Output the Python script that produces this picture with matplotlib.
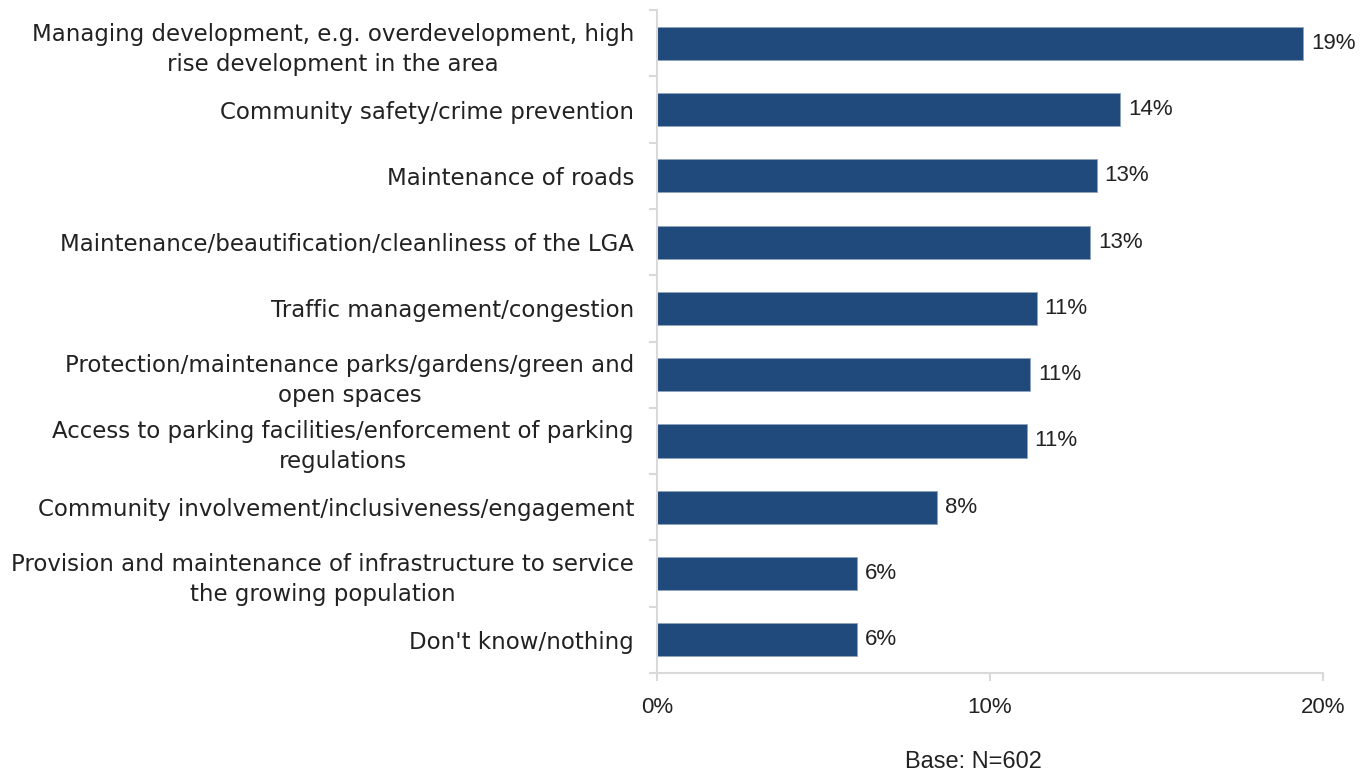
import matplotlib
matplotlib.use("Agg")
import matplotlib.pyplot as plt
from matplotlib.ticker import FixedLocator

categories = [
    "Managing development, e.g. overdevelopment, high\nrise development in the area",
    "Community safety/crime prevention",
    "Maintenance of roads",
    "Maintenance/beautification/cleanliness of the LGA",
    "Traffic management/congestion",
    "Protection/maintenance parks/gardens/green and\nopen spaces",
    "Access to parking facilities/enforcement of parking\nregulations",
    "Community involvement/inclusiveness/engagement",
    "Provision and maintenance of infrastructure to service\nthe growing population",
    "Don't know/nothing",
]
values = [19.4, 13.9, 13.2, 13.0, 11.4, 11.2, 11.1, 8.4, 6.0, 6.0]
x_ticks = [0, 10, 20]
base_note = "Base: N=602"

bar_color = "#214a7c"
axis_color = "#d9d9d9"
text_color = "#222222"
num_font = "Liberation Sans"

fig = plt.figure(figsize=(13.69, 7.75), dpi=100)
ax = fig.add_axes([0.4799, 0.1316, 0.9664 - 0.4799, 0.987 - 0.1316])

n = len(categories)
pos = list(range(n))
ax.barh(pos, values, height=0.5, color=bar_color, edgecolor="#8fa3bd", linewidth=0.6)
ax.set_ylim(n - 0.5, -0.5)
ax.set_xlim(0, 20)

for y, v in zip(pos, values):
    ax.text(v + 0.24, y, f"{v:.0f}%", va="center", ha="left",
            fontsize=16, color=text_color, family=num_font)

# category labels
ax.set_yticks(pos)
ax.set_yticklabels(categories, fontsize=16.5, color=text_color, family="DejaVu Sans",
                   multialignment="center", linespacing=1.38)
ax.tick_params(axis="y", which="major", length=0, pad=16.5)
ax.yaxis.set_minor_locator(FixedLocator([i - 0.5 for i in range(n + 1)]))
ax.tick_params(axis="y", which="minor", length=6, width=1.5, color=axis_color)

ax.set_xticks(x_ticks)
ax.set_xticklabels([f"{t}%" for t in x_ticks], fontsize=16, color=text_color,
                   family=num_font)
ax.tick_params(axis="x", length=6, width=1.5, color=axis_color, pad=11)

for side in ["top", "right"]:
    ax.spines[side].set_visible(False)
for side in ["left", "bottom"]:
    ax.spines[side].set_color(axis_color)
    ax.spines[side].set_linewidth(1.5)

fig.text(973 / 1369, 1 - 762 / 775, base_note, ha="center", va="center",
         fontsize=17, color=text_color, family=num_font)

fig.savefig("out.png", dpi=100)
